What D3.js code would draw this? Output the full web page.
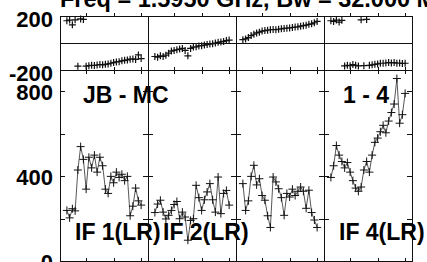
<!DOCTYPE html>
<html>
<head>
<meta charset="utf-8">
<script src="https://cdn.jsdelivr.net/npm/d3@7"></script>
<style>
  html, body { margin: 0; padding: 0; background: #fff; }
  svg { display: block; font-family: "Liberation Sans", Arial, Helvetica, sans-serif; font-weight: bold; }
</style>
</head>
<body>
<svg id="plot" width="427" height="262"></svg>
<script>
const title = "Freq = 1.5950 GHz, Bw = 32.000 MHz";
const baselineLabel = "JB - MC";
const stokesLabel = "1 - 4";
const ifNames = ["IF 1(LR)", "IF 2(LR)", "IF 3(LR)", "IF 4(LR)"];
const ifShown = [true, true, false, true];

const channels = [3, 4, 5, 6, 7, 8, 9, 10, 11, 12, 13, 14, 15, 16,
                  17, 18, 19, 20, 21, 22, 23, 24, 25, 26, 27, 28, 29, 30];

// amplitude per IF (channels 3..30)
const amp1 = [240, 205, 248, 238, 430, 540, 480, 340, 490, 440, 500, 420, 490, 450,
              340, 320, 400, 370, 420, 395, 410, 380, 400, 215, 260, 345, 285, 265];
const amp2 = [230, 270, 288, 232, 200, 217, 240, 268, 282, 201, 232, 209, 100, 193,
              201, 358, 300, 240, 290, 327, 366, 290, 232, 397, 225, 320, 334, 265];
const amp3 = [366, 240, 285, 400, 452, 360, 389, 310, 288, 215, 160, 397, 374, 342,
              300, 217, 320, 303, 340, 310, 330, 350, 330, 250, 335, 230, 195, 160];
const amp4 = [395, 450, 545, 500, 470, 440, 465, 420, 380, 345, 330, 350, 430, 470,
              420, 500, 560, 580, 610, 640, 605, 660, 700, 740, 860, 650, 690, 790];

// phase per IF (degrees)
const phase1 = [165, 170, 135, 172, -172, 178, 175, -172, -168, -165, -166, -163, -160, -162,
                -158, -155, -150, -145, -140, -138, -132, -128, -125, -120, -118, -122, -88, -115];
const phase2 = [-100, -105, -95, -100, -90, -75, -60, -55, -50, -45, -40, -55, -95, -40,
                -30, -28, -22, -20, -15, -12, -8, -5, 0, 5, 8, 12, 18, 22];
const phase3 = [25, 30, 40, 55, 65, 75, 80, 88, 92, 95, 98, 100, 98, 102,
                105, 108, 110, 112, 115, 118, 120, 125, 128, 132, 138, 142, 150, 160];
const phase4 = [165, 160, 170, 155, 168, -170, -165, -168, -160, -165, -170, 172, -168, 175,
                -165, -162, -158, -155, -150, -150, -148, -145, -148, -145, -150, -148, -152, -150];

const ampSeries = [amp1, amp2, amp3, amp4];
const phaseSeries = [phase1, phase2, phase3, phase4];

const phaseTicks = [-200, 200];
const ampTicks = [0, 200, 400, 600, 800];
const ampLabels = [0, 400, 800];
const chanTicks = [10, 20, 30];

const svg = d3.select("#plot");

const panelX = d3.scaleBand().domain(ifNames).range([60, 412]).padding(0);
const yPhase = d3.scaleLinear().domain([-200, 200]).range([70, 16]);
const yAmp = d3.scaleLinear().domain([0, 900]).range([261.5, 70]);

const ink = "#111";
const plainNum = d => String(d); // hyphen minus, as in the original

function clean(g) {
  g.select(".domain").remove();
  g.selectAll("line").attr("stroke", ink).attr("shape-rendering", "crispEdges");
  g.selectAll("text").attr("fill", "#000").attr("font-size", 22)
    .attr("font-family", "Liberation Sans, Arial, sans-serif").attr("font-weight", "bold");
}

// title (cropped at the top in the original)
svg.append("text")
  .attr("x", 60).attr("y", 7)
  .attr("font-size", 23.5)
  .text(title);

// y-axis labels
svg.append("g")
  .attr("transform", "translate(53,3)")
  .call(d3.axisLeft(yPhase).tickValues(phaseTicks).tickSize(0).tickPadding(0).tickFormat(plainNum))
  .call(clean);

svg.append("g")
  .attr("transform", "translate(53,1)")
  .call(d3.axisLeft(yAmp).tickValues(ampLabels).tickSize(0).tickPadding(0).tickFormat(plainNum))
  .call(clean);

ifNames.forEach((name, i) => {
  const left = panelX(name);
  const right = left + panelX.bandwidth();
  const x = d3.scaleLinear().domain([0.5, 32.5]).range([left, right]);
  const g = svg.append("g");

  // channel ticks: top of phase box, bottom of phase box, top and bottom of amp box
  g.append("g").attr("transform", `translate(0,${yPhase(200)})`)
    .call(d3.axisBottom(x).tickValues(chanTicks).tickSize(-3).tickFormat("")).call(clean);
  g.append("g").attr("transform", `translate(0,${yPhase(-200)})`)
    .call(d3.axisBottom(x).tickValues(chanTicks).tickSize(-3.5).tickFormat("")).call(clean);
  g.append("g").attr("transform", `translate(0,${yAmp(900)})`)
    .call(d3.axisBottom(x).tickValues(chanTicks).tickSize(3.5).tickFormat("")).call(clean);
  g.append("g").attr("transform", `translate(0,${yAmp(0)})`)
    .call(d3.axisBottom(x).tickValues(chanTicks).tickSize(-3.5).tickFormat("")).call(clean);

  // amplitude ticks on both sides of each panel
  g.append("g").attr("transform", `translate(${left},0)`)
    .call(d3.axisRight(yAmp).tickValues(ampTicks).tickSize(5).tickFormat("")).call(clean);
  g.append("g").attr("transform", `translate(${right},0)`)
    .call(d3.axisLeft(yAmp).tickValues(ampTicks).tickSize(5).tickFormat("")).call(clean);

  // panel frame
  g.append("line").attr("x1", left).attr("x2", left)
    .attr("y1", yPhase(200)).attr("y2", yAmp(0))
    .attr("stroke", ink).attr("shape-rendering", "crispEdges");
  if (i === ifNames.length - 1) {
    g.append("line").attr("x1", right).attr("x2", right)
      .attr("y1", yPhase(200)).attr("y2", yAmp(0))
      .attr("stroke", ink).attr("shape-rendering", "crispEdges");
  }
  [yPhase(200), yPhase(0), yPhase(-200), yAmp(0)].forEach(yy => {
    g.append("line").attr("x1", left).attr("x2", right)
      .attr("y1", yy).attr("y2", yy)
      .attr("stroke", ink).attr("shape-rendering", "crispEdges");
  });

  // amplitude line + crosses
  const ampData = channels.map((c, k) => ({ c, v: ampSeries[i][k] }));
  g.append("path")
    .datum(ampData)
    .attr("fill", "none")
    .attr("stroke", "#444")
    .attr("stroke-width", 0.9)
    .attr("d", d3.line().x(d => x(d.c)).y(d => yAmp(d.v)));

  g.append("path")
    .attr("fill", "none")
    .attr("stroke", ink)
    .attr("stroke-width", 1)
    .attr("d", ampData.map(d => {
      const px = x(d.c), py = yAmp(d.v);
      return `M${px - 4},${py}h8M${px},${py - 4}v8`;
    }).join(""));

  // phase crosses
  const phData = channels.map((c, k) => ({ c, v: phaseSeries[i][k] }));
  g.append("path")
    .attr("fill", "none")
    .attr("stroke", ink)
    .attr("stroke-width", 1.2)
    .attr("d", phData.map(d => {
      const px = x(d.c), py = yPhase(d.v);
      return `M${px - 3.5},${py}h7M${px},${py - 3.5}v7`;
    }).join(""));

  if (ifShown[i]) {
    g.append("text")
      .attr("x", left + 15).attr("y", 240)
      .attr("font-size", 23)
      .text(name);
  }
});

svg.append("text")
  .attr("x", panelX(ifNames[0]) + 23).attr("y", 103)
  .attr("font-size", 23)
  .text(baselineLabel);

svg.append("text")
  .attr("x", panelX(ifNames[3]) + 19).attr("y", 103)
  .attr("font-size", 23)
  .text(stokesLabel);
</script>
</body>
</html>
